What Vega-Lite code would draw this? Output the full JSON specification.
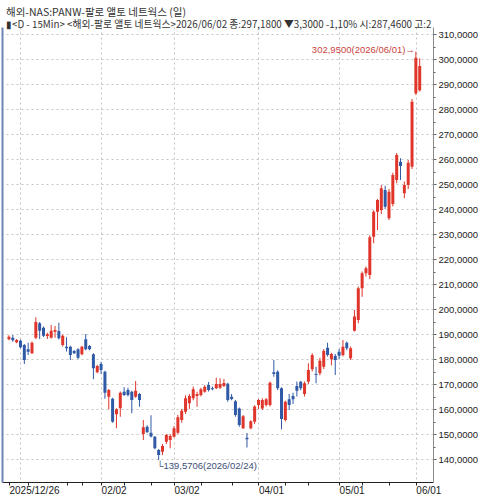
{
"$schema":"https://vega.github.io/schema/vega-lite/v6.json",
"width":431,"height":455,"autosize":"none",
"padding":{"left":2,"top":27,"right":45,"bottom":18},
"background":"#ffffff",
"config":{"view":{"stroke":null},"font":"Noto Sans CJK KR"},
"title":{"text":"해외-NAS:PANW-팔로 앨토 네트웍스 (일)","subtitle":"▮<D - 15Min> <해외-팔로 앨토 네트웍스>2026/06/02 종:297,1800 ▼3,3000 -1,10% 시:287,4600 고:2","anchor":"start","frame":"group","font":"Noto Sans CJK KR","fontSize":10.5,"fontWeight":"normal","color":"#333333","lineHeight":12,"subtitleFont":"Noto Sans CJK KR","subtitleFontSize":9.8,"subtitleColor":"#333333","subtitleLineHeight":11,"subtitlePadding":2,"offset":-3,"dx":4},
"datasets":{"candles":[
{"i":0,"o":187.9,"h":189.5,"l":187.5,"c":188.9,"d":"up"},
{"i":1,"o":188.5,"h":189.6,"l":186.9,"c":187.5,"d":"dn"},
{"i":2,"o":186.7,"h":188.0,"l":186.3,"c":187.6,"d":"up"},
{"i":3,"o":187.3,"h":187.8,"l":184.3,"c":184.7,"d":"dn"},
{"i":4,"o":185.6,"h":186.0,"l":178.0,"c":179.6,"d":"dn"},
{"i":5,"o":183.9,"h":186.5,"l":181.6,"c":182.9,"d":"dn"},
{"i":6,"o":182.3,"h":187.0,"l":182.0,"c":186.5,"d":"up"},
{"i":7,"o":188.5,"h":196.7,"l":188.0,"c":194.8,"d":"up"},
{"i":8,"o":194.3,"h":194.8,"l":188.0,"c":191.3,"d":"dn"},
{"i":9,"o":192.5,"h":193.0,"l":188.8,"c":189.3,"d":"dn"},
{"i":10,"o":189.2,"h":190.5,"l":188.0,"c":189.9,"d":"up"},
{"i":11,"o":188.5,"h":193.6,"l":188.2,"c":191.3,"d":"up"},
{"i":12,"o":190.9,"h":193.2,"l":188.5,"c":191.6,"d":"up"},
{"i":13,"o":191.2,"h":194.5,"l":187.8,"c":188.3,"d":"dn"},
{"i":14,"o":185.6,"h":189.8,"l":185.0,"c":189.3,"d":"up"},
{"i":15,"o":184.9,"h":188.7,"l":183.0,"c":184.3,"d":"dn"},
{"i":16,"o":184.9,"h":185.3,"l":179.6,"c":181.6,"d":"dn"},
{"i":17,"o":183.2,"h":183.6,"l":182.0,"c":182.3,"d":"dn"},
{"i":18,"o":183.9,"h":184.3,"l":180.0,"c":180.5,"d":"dn"},
{"i":19,"o":181.9,"h":185.3,"l":181.5,"c":184.9,"d":"up"},
{"i":20,"o":187.9,"h":190.0,"l":183.5,"c":183.9,"d":"dn"},
{"i":21,"o":185.2,"h":185.6,"l":183.5,"c":183.9,"d":"dn"},
{"i":22,"o":181.9,"h":182.3,"l":171.9,"c":176.3,"d":"dn"},
{"i":23,"o":174.7,"h":177.6,"l":174.3,"c":177.2,"d":"up"},
{"i":24,"o":178.0,"h":178.9,"l":174.0,"c":175.6,"d":"dn"},
{"i":25,"o":174.9,"h":175.3,"l":164.1,"c":166.5,"d":"dn"},
{"i":26,"o":164.9,"h":168.0,"l":159.9,"c":167.6,"d":"up"},
{"i":27,"o":164.1,"h":164.5,"l":154.5,"c":154.9,"d":"dn"},
{"i":28,"o":157.9,"h":160.3,"l":152.3,"c":159.9,"d":"up"},
{"i":29,"o":160.3,"h":167.0,"l":156.9,"c":166.5,"d":"up"},
{"i":30,"o":166.9,"h":168.7,"l":165.2,"c":165.6,"d":"dn"},
{"i":31,"o":167.6,"h":168.5,"l":165.0,"c":165.6,"d":"dn"},
{"i":32,"o":166.9,"h":167.3,"l":158.3,"c":163.6,"d":"dn"},
{"i":33,"o":164.9,"h":171.2,"l":164.5,"c":167.3,"d":"up"},
{"i":34,"o":166.0,"h":166.4,"l":160.9,"c":163.6,"d":"dn"},
{"i":35,"o":150.0,"h":155.6,"l":147.6,"c":152.7,"d":"up"},
{"i":36,"o":152.9,"h":153.5,"l":150.5,"c":150.7,"d":"dn"},
{"i":37,"o":150.5,"h":157.5,"l":148.6,"c":149.0,"d":"dn"},
{"i":38,"o":148.9,"h":149.2,"l":143.9,"c":144.3,"d":"dn"},
{"i":39,"o":143.6,"h":144.0,"l":139.57,"c":141.6,"d":"dn"},
{"i":40,"o":142.9,"h":146.0,"l":141.6,"c":145.2,"d":"up"},
{"i":41,"o":146.9,"h":150.0,"l":146.0,"c":149.6,"d":"up"},
{"i":42,"o":147.6,"h":150.0,"l":144.3,"c":149.2,"d":"up"},
{"i":43,"o":148.9,"h":153.2,"l":148.6,"c":152.3,"d":"up"},
{"i":44,"o":150.5,"h":157.6,"l":150.0,"c":156.7,"d":"up"},
{"i":45,"o":155.6,"h":160.0,"l":154.5,"c":159.3,"d":"up"},
{"i":46,"o":158.9,"h":165.5,"l":158.0,"c":164.3,"d":"up"},
{"i":47,"o":162.3,"h":166.0,"l":160.0,"c":165.2,"d":"up"},
{"i":48,"o":164.3,"h":169.0,"l":163.5,"c":167.9,"d":"up"},
{"i":49,"o":165.2,"h":166.9,"l":160.9,"c":166.0,"d":"up"},
{"i":50,"o":165.6,"h":168.5,"l":165.0,"c":167.9,"d":"up"},
{"i":51,"o":166.9,"h":169.5,"l":166.5,"c":168.9,"d":"up"},
{"i":52,"o":169.6,"h":170.8,"l":167.0,"c":167.6,"d":"dn"},
{"i":53,"o":168.3,"h":169.0,"l":167.5,"c":167.9,"d":"dn"},
{"i":54,"o":168.3,"h":172.5,"l":168.0,"c":170.0,"d":"up"},
{"i":55,"o":168.5,"h":172.3,"l":168.0,"c":170.0,"d":"up"},
{"i":56,"o":169.2,"h":172.0,"l":168.8,"c":170.4,"d":"up"},
{"i":57,"o":170.1,"h":170.5,"l":162.9,"c":163.6,"d":"dn"},
{"i":58,"o":164.9,"h":166.0,"l":163.5,"c":164.0,"d":"dn"},
{"i":59,"o":163.1,"h":163.6,"l":156.9,"c":157.6,"d":"dn"},
{"i":60,"o":160.2,"h":160.6,"l":152.9,"c":153.6,"d":"dn"},
{"i":61,"o":152.3,"h":157.6,"l":152.0,"c":157.1,"d":"up"},
{"i":62,"o":148.5,"h":150.4,"l":144.6,"c":147.9,"d":"dn"},
{"i":63,"o":152.3,"h":155.5,"l":151.9,"c":155.1,"d":"up"},
{"i":64,"o":154.9,"h":161.5,"l":154.0,"c":161.0,"d":"up"},
{"i":65,"o":161.6,"h":164.0,"l":160.0,"c":163.6,"d":"up"},
{"i":66,"o":160.2,"h":164.3,"l":159.6,"c":163.6,"d":"up"},
{"i":67,"o":161.6,"h":164.4,"l":161.0,"c":163.9,"d":"up"},
{"i":68,"o":161.6,"h":171.0,"l":161.0,"c":170.5,"d":"up"},
{"i":69,"o":174.7,"h":179.6,"l":172.9,"c":174.0,"d":"dn"},
{"i":70,"o":174.9,"h":175.5,"l":167.6,"c":168.3,"d":"dn"},
{"i":71,"o":168.3,"h":168.7,"l":151.9,"c":156.0,"d":"dn"},
{"i":72,"o":155.6,"h":163.3,"l":155.0,"c":162.9,"d":"up"},
{"i":73,"o":163.9,"h":166.0,"l":159.6,"c":161.6,"d":"dn"},
{"i":74,"o":165.2,"h":166.5,"l":162.0,"c":163.9,"d":"dn"},
{"i":75,"o":169.2,"h":171.0,"l":165.0,"c":167.3,"d":"dn"},
{"i":76,"o":170.9,"h":171.2,"l":167.5,"c":168.3,"d":"dn"},
{"i":77,"o":166.0,"h":171.0,"l":165.0,"c":170.3,"d":"up"},
{"i":78,"o":170.9,"h":178.3,"l":170.0,"c":175.6,"d":"up"},
{"i":79,"o":175.9,"h":182.3,"l":175.0,"c":181.6,"d":"up"},
{"i":80,"o":174.0,"h":176.9,"l":170.3,"c":173.6,"d":"dn"},
{"i":81,"o":174.3,"h":180.5,"l":173.5,"c":179.3,"d":"up"},
{"i":82,"o":176.9,"h":184.0,"l":176.0,"c":183.2,"d":"up"},
{"i":83,"o":184.5,"h":186.5,"l":181.0,"c":181.6,"d":"dn"},
{"i":84,"o":179.9,"h":182.5,"l":177.5,"c":182.0,"d":"up"},
{"i":85,"o":181.2,"h":182.0,"l":173.6,"c":179.6,"d":"dn"},
{"i":86,"o":182.9,"h":184.0,"l":180.0,"c":181.3,"d":"dn"},
{"i":87,"o":181.6,"h":187.6,"l":181.0,"c":184.9,"d":"up"},
{"i":88,"o":186.5,"h":187.0,"l":183.5,"c":184.3,"d":"dn"},
{"i":89,"o":180.3,"h":185.0,"l":179.6,"c":184.3,"d":"up"},
{"i":90,"o":191.3,"h":199.6,"l":191.0,"c":197.0,"d":"up"},
{"i":91,"o":195.6,"h":209.0,"l":194.3,"c":208.3,"d":"up"},
{"i":92,"o":208.3,"h":215.0,"l":204.9,"c":214.3,"d":"up"},
{"i":93,"o":214.3,"h":217.0,"l":213.0,"c":216.3,"d":"up"},
{"i":94,"o":213.6,"h":229.5,"l":212.0,"c":228.7,"d":"up"},
{"i":95,"o":228.9,"h":239.5,"l":226.3,"c":238.9,"d":"up"},
{"i":96,"o":238.9,"h":244.0,"l":231.6,"c":243.6,"d":"up"},
{"i":97,"o":239.6,"h":249.6,"l":238.0,"c":248.3,"d":"up"},
{"i":98,"o":247.6,"h":249.3,"l":240.0,"c":240.9,"d":"dn"},
{"i":99,"o":236.3,"h":248.0,"l":235.6,"c":246.9,"d":"up"},
{"i":100,"o":242.0,"h":254.5,"l":241.0,"c":253.6,"d":"up"},
{"i":101,"o":251.6,"h":262.4,"l":250.3,"c":261.6,"d":"up"},
{"i":102,"o":258.9,"h":260.3,"l":251.6,"c":257.2,"d":"dn"},
{"i":103,"o":246.3,"h":251.0,"l":244.3,"c":249.6,"d":"up"},
{"i":104,"o":249.6,"h":259.6,"l":248.0,"c":258.5,"d":"up"},
{"i":105,"o":256.9,"h":284.0,"l":256.0,"c":282.9,"d":"up"},
{"i":106,"o":286.3,"h":302.95,"l":285.6,"c":300.48,"d":"up"},
{"i":107,"o":287.46,"h":300.3,"l":287.0,"c":297.18,"d":"up"}
]},
"resolve":{"axis":{"x":"independent","y":"independent"}},
"layer":[
{"data":{"name":"candles"},
 "mark":{"type":"rule","strokeWidth":1},
 "encoding":{
  "x":{"field":"i","type":"quantitative","scale":{"domain":[-0.51,109.16],"nice":false,"zero":false},
       "axis":{"orient":"bottom","values":[3,24,43,65,86,106],"grid":true,"gridDash":[2,3],"gridColor":"#c4c4c4","labels":false,"ticks":false,"domain":false,"title":null}},
  "y":{"field":"l","type":"quantitative","scale":{"domain":[130.8,312.8],"nice":false,"zero":false},
       "axis":{"orient":"right","values":[140,150,160,170,180,190,200,210,220,230,240,250,260,270,280,290,300,310],"grid":true,"gridDash":[2,3],"gridColor":"#c4c4c4","labelExpr":"replace(format(datum.value,'.4f'),'.',',')","labelFont":"Liberation Sans","labelFontSize":9.5,"labelColor":"#222222","tickSize":3,"tickColor":"#666666","domainColor":"#8a8a8a","labelPadding":2,"title":null}},
  "y2":{"field":"h"},
  "color":{"field":"d","type":"nominal","scale":{"domain":["up","dn"],"range":["#e0352b","#3059a6"]},"legend":null}
 }},
{"data":{"name":"candles"},
 "mark":{"type":"bar","size":3},
 "encoding":{
  "x":{"field":"i","type":"quantitative","scale":{"domain":[-0.51,109.16],"nice":false,"zero":false},
       "axis":{"orient":"bottom","values":[0,24,43,65,86,106],"labelExpr":"datum.value==0?'2025/12/26':datum.value==24?'02/02':datum.value==43?'03/02':datum.value==65?'04/01':datum.value==86?'05/01':'06/01'","labelAlign":"left","labelFlush":false,"labelOverlap":false,"grid":false,"tickSize":3,"tickColor":"#222222","domainColor":"#222222","labelFont":"Liberation Sans","labelFontSize":10,"labelColor":"#222222","labelPadding":0,"title":null}},
  "y":{"field":"o","type":"quantitative","scale":{"domain":[130.8,312.8],"nice":false,"zero":false},
       "axis":{"orient":"right","values":[145,155,165,175,185,195,205,215,225,235,245,255,265,275,285,295,305],"labels":false,"grid":false,"domain":false,"tickSize":2,"tickColor":"#666666","title":null}},
  "y2":{"field":"c"},
  "color":{"field":"d","type":"nominal","scale":{"domain":["up","dn"],"range":["#e0352b","#3059a6"]},"legend":null}
 }},
{"data":{"values":[{"i":106,"v":302.95,"t":"302,9500(2026/06/01)→"}]},
 "mark":{"type":"text","align":"right","baseline":"middle","dx":-1,"dy":-2,"font":"Liberation Sans","fontSize":9.5,"color":"#c8453c"},
 "encoding":{
  "x":{"field":"i","type":"quantitative","scale":{"domain":[-0.51,109.16],"nice":false,"zero":false},
       "axis":{"orient":"bottom","values":[5,15,19,30,37,50,58,72,78,92,99],"labels":false,"grid":false,"domain":false,"tickSize":3,"tickColor":"#222222","title":null}},
  "y":{"field":"v","type":"quantitative","scale":{"domain":[130.8,312.8],"nice":false,"zero":false},
       "axis":{"orient":"left","labels":false,"ticks":false,"grid":false,"domainColor":"#6d87b5","domainWidth":2,"title":null}},
  "text":{"field":"t"}
 }},
{"data":{"values":[{"i":39,"v":139.5706,"t":"└139,5706(2026/02/24)"}]},
 "mark":{"type":"text","align":"left","baseline":"top","dx":-2,"dy":1,"font":"Liberation Sans","fontSize":9.5,"color":"#3d4f78"},
 "encoding":{
  "x":{"field":"i","type":"quantitative","scale":{"domain":[-0.51,109.16],"nice":false,"zero":false},"axis":null},
  "y":{"field":"v","type":"quantitative","scale":{"domain":[130.8,312.8],"nice":false,"zero":false},"axis":null},
  "text":{"field":"t"}
 }},
{"mark":{"type":"rule","strokeWidth":2,"color":"#e0352b"},
 "encoding":{"x":{"datum":109.16,"type":"quantitative","axis":null},"y":{"datum":297.18,"type":"quantitative","axis":null},"y2":{"datum":312.8}}},
{"mark":{"type":"rule","strokeWidth":2,"color":"#3059a6"},
 "encoding":{"x":{"datum":109.16,"type":"quantitative","axis":null},"y":{"datum":213.6,"type":"quantitative","axis":null},"y2":{"datum":297.18}}},
{"mark":{"type":"rect","color":"#3a5f9e"},
 "encoding":{"x":{"datum":109.3,"type":"quantitative","axis":null},"x2":{"datum":120.4},"y":{"datum":302.8,"type":"quantitative","axis":null},"y2":{"datum":295.2}}},
{"mark":{"type":"text","align":"left","baseline":"middle","dx":3,"font":"Liberation Sans","fontSize":9.5,"color":"#ffffff"},
 "encoding":{"x":{"datum":109.3,"type":"quantitative","axis":null},"y":{"datum":300.6,"type":"quantitative","axis":null},"text":{"value":"297,1800"}}},
{"mark":{"type":"text","align":"right","baseline":"middle","dx":41,"font":"Liberation Sans","fontSize":9.5,"color":"#ffffff"},
 "encoding":{"x":{"datum":109.3,"type":"quantitative","axis":null},"y":{"datum":297.4,"type":"quantitative","axis":null},"text":{"value":"- 1,10%"}}}
]
}
